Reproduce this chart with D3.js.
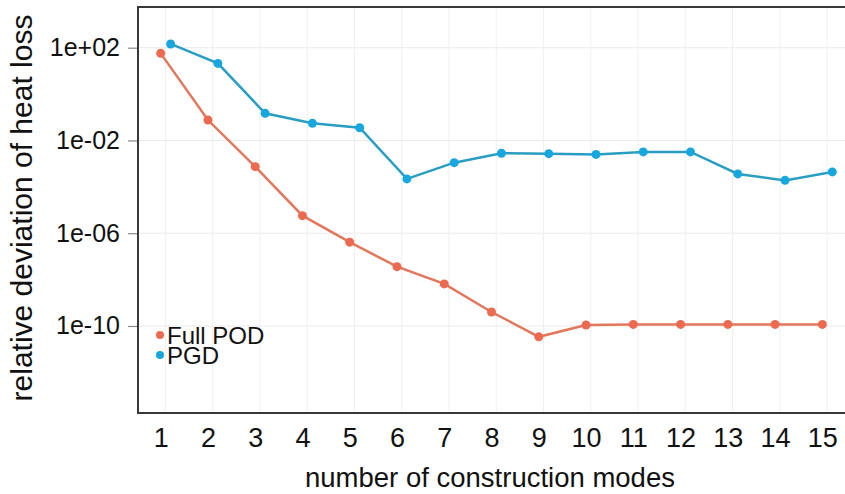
<!DOCTYPE html>
<html>
<head>
<meta charset="utf-8">
<script src="https://cdn.jsdelivr.net/npm/d3@7"></script>
<style>
  html, body { margin: 0; padding: 0; background: #fff; }
  svg { display: block; font-family: "Liberation Sans", Arial, sans-serif; }
</style>
</head>
<body>
<svg id="chart" width="845" height="494"></svg>
<script>
// Number of construction modes on the x axis
const modes = [1, 2, 3, 4, 5, 6, 7, 8, 9, 10, 11, 12, 13, 14, 15];

// Relative deviation of heat loss per method
const fullPOD = [57, 0.076, 7.4e-4, 5.7e-6, 4.1e-7, 3.6e-8, 6.5e-9, 4.0e-10, 3.4e-11,
                 1.1e-10, 1.17e-10, 1.17e-10, 1.17e-10, 1.17e-10, 1.17e-10];
const pgd = [145, 21, 0.148, 0.055, 0.0355, 2.2e-4, 1.1e-3, 2.8e-3, 2.7e-3,
             2.5e-3, 3.2e-3, 3.2e-3, 3.6e-4, 1.9e-4, 4.4e-4];

// Y tick values and their labels
const yTicks = [1e2, 1e-2, 1e-6, 1e-10];
const yTickLabels = ["1e+02", "1e-02", "1e-06", "1e-10"];

const seriesNames = ["Full POD", "PGD"];
const pointColors = ["#EC6B50", "#17A7DE"];
const lineColors = ["#E2775C", "#2A9EC2"];
const dodge = [0, 0.21];   // PGD points sit slightly right of each mode

const svg = d3.select("#chart");
const pLeft = 138, pRight = 846, pTop = 7, pBottom = 413;

const x = d3.scaleLinear().domain([0.52, 15.5]).range([pLeft, pRight]);
const y = d3.scaleLog().domain([Math.pow(10, -13.753), Math.pow(10, 3.755)]).range([pBottom, pTop]);

// grid
const grid = svg.append("g");
grid.selectAll("line.h").data(yTicks).join("line")
  .attr("x1", pLeft).attr("x2", pRight)
  .attr("y1", d => y(d)).attr("y2", d => y(d))
  .attr("stroke", "#ebebeb").attr("stroke-width", 1);
grid.selectAll("line.v").data(modes).join("line")
  .attr("x1", d => x(d + 0.1)).attr("x2", d => x(d + 0.1))
  .attr("y1", pTop).attr("y2", pBottom)
  .attr("stroke", "#f0f0f0").attr("stroke-width", 1);

// y axis
const yAxis = d3.axisLeft(y).tickValues(yTicks)
  .tickFormat((d, i) => yTickLabels[i]).tickSize(9).tickPadding(8);
const gy = svg.append("g").attr("transform", `translate(${pLeft - 1},0)`).call(yAxis);
gy.select(".domain").remove();
gy.selectAll(".tick line").attr("stroke", "#8a8a8a").attr("stroke-width", 1.2);
gy.selectAll(".tick text").attr("font-size", 25).attr("fill", "#111")
  .attr("font-family", "Liberation Sans, Arial, sans-serif");

// x axis
const xAxis = d3.axisBottom(x).tickValues(modes).tickFormat(d3.format("d")).tickSize(0).tickPadding(15);
const gx = svg.append("g").attr("transform", `translate(0,${pBottom})`).call(xAxis);
gx.select(".domain").remove();
gx.selectAll(".tick text").attr("font-size", 27).attr("fill", "#111")
  .attr("font-family", "Liberation Sans, Arial, sans-serif");

// series
const series = [fullPOD, pgd];
series.forEach((vals, s) => {
  const pts = vals.map((v, i) => [x(modes[i] + dodge[s]), y(v)]);
  svg.append("path")
    .attr("d", d3.line()(pts))
    .attr("fill", "none").attr("stroke", lineColors[s]).attr("stroke-width", 2.5);
  svg.append("g").selectAll("circle").data(pts).join("circle")
    .attr("cx", d => d[0]).attr("cy", d => d[1]).attr("r", 4.5)
    .attr("fill", pointColors[s]);
});

// panel border
svg.append("rect").attr("x", pLeft).attr("y", pTop)
  .attr("width", pRight - pLeft).attr("height", pBottom - pTop)
  .attr("fill", "none").attr("stroke", "#383838").attr("stroke-width", 2);

// legend
const legend = svg.append("g");
seriesNames.forEach((name, i) => {
  legend.append("circle").attr("cx", 160).attr("cy", 335 + i * 20).attr("r", 4)
    .attr("fill", pointColors[i]);
  legend.append("text").attr("x", 167).attr("y", 344 + i * 20)
    .attr("font-size", 24).attr("fill", "#111").text(name);
});

// axis titles
svg.append("text").attr("x", (pLeft + pRight) / 2 - 2).attr("y", 487)
  .attr("text-anchor", "middle").attr("font-size", 27.5).attr("fill", "#111")
  .text("number of construction modes");
svg.append("text").attr("transform", `translate(32,${(pTop + pBottom) / 2 - 2}) rotate(-90)`)
  .attr("text-anchor", "middle").attr("font-size", 30).attr("fill", "#111")
  .text("relative deviation of heat loss");
</script>
</body>
</html>
